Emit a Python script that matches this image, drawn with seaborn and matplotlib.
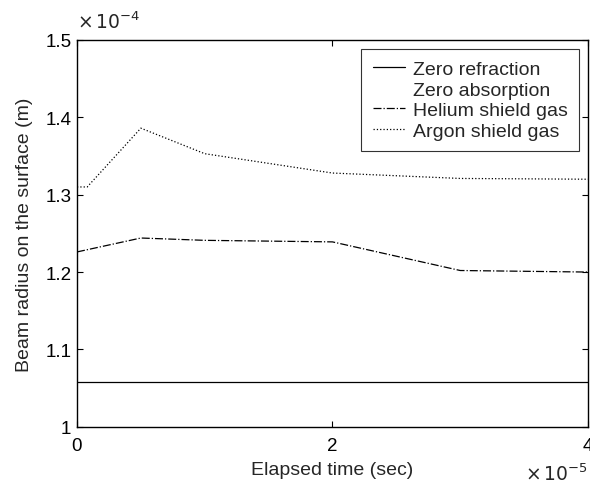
import seaborn as sns
import matplotlib.pyplot as plt
from matplotlib.lines import Line2D
from matplotlib.ticker import FuncFormatter
import pandas as pd

sns.set_theme(style="ticks")
plt.rcParams['font.family'] = ['Liberation Sans', 'DejaVu Sans']

# elapsed time (sec) and beam radius (m)
time_zero = [0.0, 4.0e-5]
radius_zero = [1.058e-4, 1.058e-4]

time_helium = [0.0, 0.5e-5, 1.0e-5, 2.0e-5, 3.0e-5, 4.0e-5]
radius_helium = [1.226e-4, 1.244e-4, 1.241e-4, 1.239e-4, 1.202e-4, 1.200e-4]

time_argon = [0.0, 0.08e-5, 0.5e-5, 1.0e-5, 2.0e-5, 3.0e-5, 4.0e-5]
radius_argon = [1.310e-4, 1.310e-4, 1.386e-4, 1.353e-4, 1.328e-4, 1.321e-4, 1.320e-4]

x_ticks = [0, 2e-5, 4e-5]
y_ticks = [1.0e-4, 1.1e-4, 1.2e-4, 1.3e-4, 1.4e-4, 1.5e-4]

fig = plt.figure(figsize=(5.9, 4.85), dpi=100)
ax = fig.add_axes([0.1305, 0.118, 0.866, 0.7975])

lw = 0.9
sns.lineplot(data=pd.DataFrame({'t': time_zero, 'r': radius_zero}), x='t', y='r',
             ax=ax, color='black', lw=lw, linestyle='-')
sns.lineplot(data=pd.DataFrame({'t': time_helium, 'r': radius_helium}), x='t', y='r',
             ax=ax, color='black', lw=lw, linestyle='-.')
sns.lineplot(data=pd.DataFrame({'t': time_argon, 'r': radius_argon}), x='t', y='r',
             ax=ax, color='black', lw=lw, linestyle=':')

ax.set_xlim(0, 4e-5)
ax.set_ylim(1.0e-4, 1.5e-4)
ax.set_xticks(x_ticks)
ax.set_yticks(y_ticks)
ax.xaxis.set_major_formatter(FuncFormatter(lambda v, p: f"{v * 1e5:g}"))
ax.yaxis.set_major_formatter(FuncFormatter(lambda v, p: f"{round(v * 1e4, 2):g}"))
ax.tick_params(direction='in', top=True, right=True, labelsize=13.5, length=4,
               width=0.8, colors='black')
ax.tick_params(axis='x', pad=7.5)
ax.tick_params(axis='y', pad=4)
for s in ax.spines.values():
    s.set_linewidth(1.0)
    s.set_color('black')

ax.set_xlabel('Elapsed time (sec)', fontsize=14, labelpad=5)
ax.set_ylabel('Beam radius on the surface (m)', fontsize=14, labelpad=9)
ax.text(0.0, 1.02, r'$\times\,10^{-4}$', transform=ax.transAxes, fontsize=13.5,
        ha='left', va='bottom')
ax.text(1.0, -0.121, r'$\times\,10^{-5}$', transform=ax.transAxes, fontsize=13.5,
        ha='right', va='center')

handles = [
    Line2D([], [], color='black', lw=lw, linestyle='-'),
    Line2D([], [], color='none', lw=0),
    Line2D([], [], color='black', lw=lw, linestyle='-.'),
    Line2D([], [], color='black', lw=lw, linestyle=':'),
]
labels = ['Zero refraction', 'Zero absorption', 'Helium shield gas', 'Argon shield gas']
leg = ax.legend(handles, labels, loc='upper right', fontsize=14, frameon=True,
                fancybox=False, edgecolor='black', handlelength=1.65,
                labelspacing=0.15, borderaxespad=0.45, handletextpad=0.4,
                borderpad=0.6)
leg.get_frame().set_linewidth(0.8)

fig.savefig('out.png', dpi=100)
